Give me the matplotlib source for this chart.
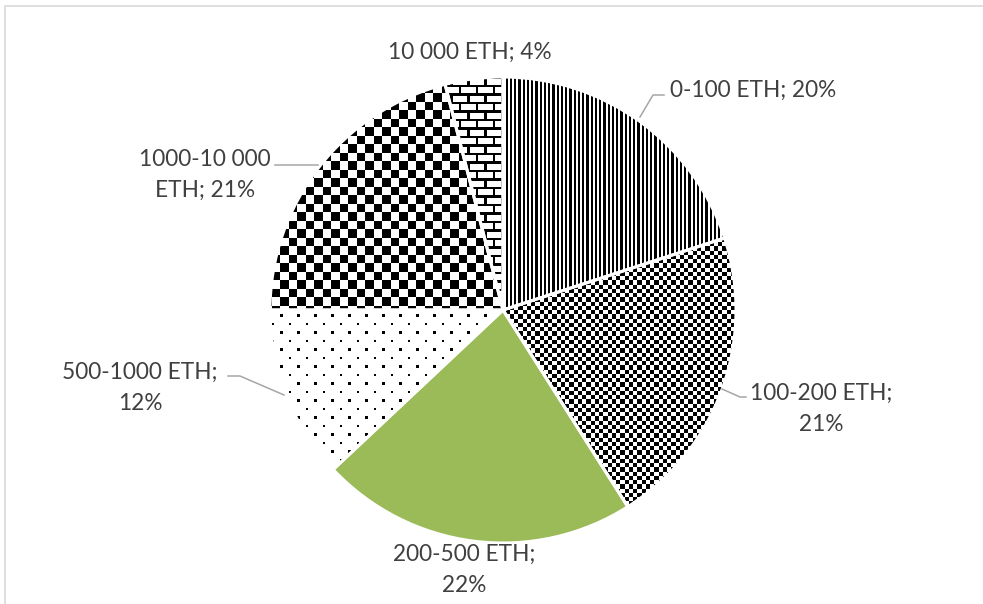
import numpy as np
import matplotlib
matplotlib.use("Agg")
import matplotlib.pyplot as plt
import matplotlib.patches as mpatches

categories = ["0-100 ETH", "100-200 ETH", "200-500 ETH", "500-1000 ETH", "1000-10 000 ETH", "10 000 ETH"]
values = [20, 21, 22, 12, 21, 4]
label_texts = ["0-100 ETH; 20%", "100-200 ETH;\n21%", "200-500 ETH;\n22%",
               "500-1000 ETH;\n12%", "1000-10 000\nETH; 21%", "10 000 ETH; 4%"]
patterns = ["vstripes", "smallcheck", "solid", "dots", "largecheck", "brick"]

W, H = 983, 604
fig = plt.figure(figsize=(W / 100, H / 100), dpi=100)
ax = fig.add_axes([0, 0, 1, 1])

def Y(y):
    return H - y

cx, cy, R = 503, 310, 233

# border
ax.plot([4.5, 4.5, W + 5], [Y(H + 5), Y(5.5), Y(5.5)], color="#d9d9d9", lw=1.2)

wedges, _ = ax.pie(values, startangle=90, counterclock=False, center=(cx, Y(cy)), radius=R,
                   colors=["white", "white", "#9bbb59", "white", "white", "white"],
                   wedgeprops=dict(edgecolor="white", linewidth=0), frame=True)

yy, xx = np.mgrid[0:H, 0:W].astype(float)
xx += 0.5
yy += 0.5
s = 8.5

def make(kind):
    if kind == "vstripes":
        m = ((xx / 4.25) % 1) < 0.5
    elif kind == "smallcheck":
        m = ((np.floor(xx / 4.25) + np.floor(yy / 4.25)) % 2) == 0
    elif kind == "largecheck":
        m = ((np.floor(xx / s) + np.floor(yy / s)) % 2) == 0
    elif kind == "dots":
        row = np.floor(yy / s)
        off = (row % 2) * s
        m = ((yy % s) < 2.2) & (((xx + off) % (2 * s)) < 2.2)
    elif kind == "brick":
        row = np.floor(yy / s)
        off = (row % 2) * s
        m = ((yy % s) < 2.2) | (((xx + off) % (2 * s)) < 2.2)
    else:
        return None
    img = np.where(m, 0.0, 1.0)
    return np.dstack([img, img, img])

for w, kind in zip(wedges, patterns):
    img = make(kind)
    if img is None:
        continue
    im = ax.imshow(img, extent=(0, W, 0, H), origin="upper", interpolation="nearest", zorder=2)
    im.set_clip_path(w)

ax.set_xlim(0, W)
ax.set_ylim(0, H)
ax.set_aspect("auto")
ax.axis("off")

# white separators
for w in wedges:
    p = mpatches.Wedge((cx, Y(cy)), R, w.theta1, w.theta2, fill=False, ec="white", lw=2.2, zorder=4)
    ax.add_patch(p)

# labels
label_pos = [(753, 90), (821, 409), (464, 570), (140, 388), (205, 175), (470, 52)]
for t, (x, y) in zip(label_texts, label_pos):
    ax.text(x, Y(y), t, ha="center", va="center", fontsize=16.3, color="#404040",
            family=["Lato", "DejaVu Sans"], linespacing=1.55, zorder=6)

lc = "#a6a6a6"
leaders = [
    ([640, 653, 664], [117, 95, 95]),
    ([722, 740, 746], [389, 397, 397]),
    ([284, 240, 228], [395, 376, 376]),
    ([318, 275], [165, 165]),
]
for xs, ys in leaders:
    ax.plot(xs, [Y(v) for v in ys], color=lc, lw=1.1, zorder=5)

fig.savefig("out.png", dpi=100)
